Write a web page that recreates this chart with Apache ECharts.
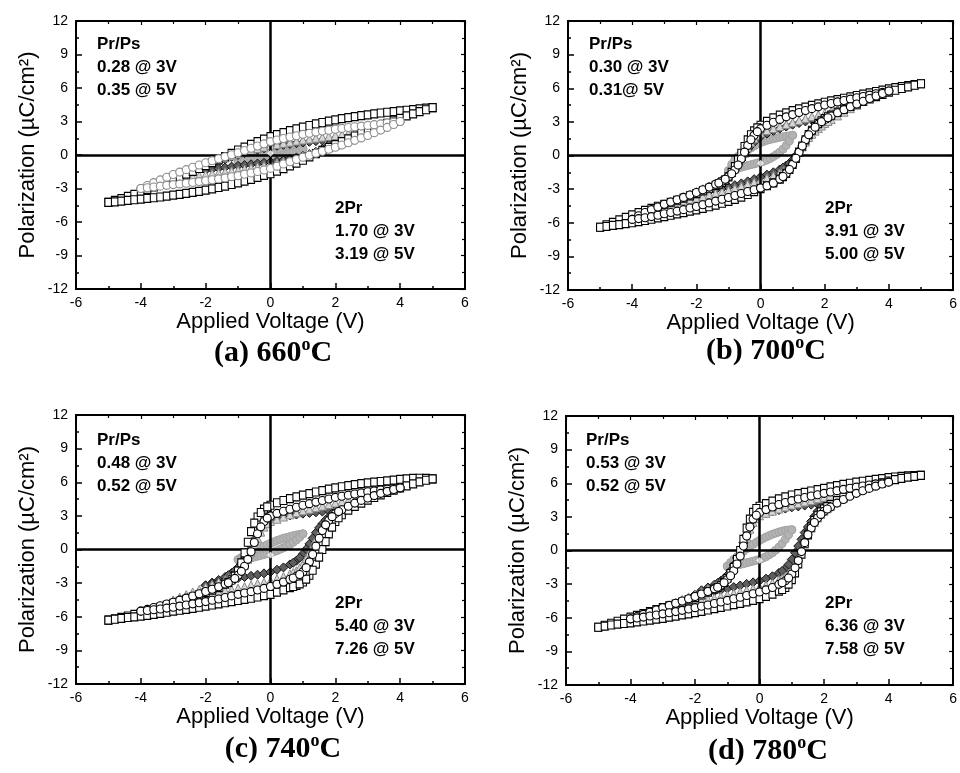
<!DOCTYPE html>
<html><head><meta charset="utf-8">
<script src="https://cdn.jsdelivr.net/npm/echarts@6/dist/echarts.min.js"></script>
<style>html,body{margin:0;padding:0;background:#fff}#c{width:960px;height:773px}</style>
</head><body><div id="c"></div>
<script>
// ---- voltage steps (V) ----
const V5 = [-5,-4.8,-4.6,-4.4,-4.2,-4,-3.8,-3.6,-3.4,-3.2,-3,-2.8,-2.6,-2.4,-2.2,-2,-1.8,-1.6,-1.4,-1.2,-1,-0.8,-0.6,-0.4,-0.2,0,0.2,0.4,0.6,0.8,1,1.2,1.4,1.6,1.8,2,2.2,2.4,2.6,2.8,3,3.2,3.4,3.6,3.8,4,4.2,4.4,4.6,4.8,5];
const V4 = [-4,-3.8,-3.6,-3.4,-3.2,-3,-2.8,-2.6,-2.4,-2.2,-2,-1.8,-1.6,-1.4,-1.2,-1,-0.8,-0.6,-0.4,-0.2,0,0.2,0.4,0.6,0.8,1,1.2,1.4,1.6,1.8,2,2.2,2.4,2.6,2.8,3,3.2,3.4,3.6,3.8,4];
const V3 = [-3,-2.8,-2.6,-2.4,-2.2,-2,-1.8,-1.6,-1.4,-1.2,-1,-0.8,-0.6,-0.4,-0.2,0,0.2,0.4,0.6,0.8,1,1.2,1.4,1.6,1.8,2,2.2,2.4,2.6,2.8,3];
const V2 = [-2,-1.8,-1.6,-1.4,-1.2,-1,-0.8,-0.6,-0.4,-0.2,0,0.2,0.4,0.6,0.8,1,1.2,1.4,1.6,1.8,2];
const V1 = [-1,-0.9,-0.8,-0.7,-0.6,-0.5,-0.4,-0.3,-0.2,-0.1,0,0.1,0.2,0.3,0.4,0.5,0.6,0.7,0.8,0.9,1];
// extra readings in the switching regions (upper branch / lower branch)
const swUpV = [-1.3,-1.1,-0.9,-0.7,-0.5,-0.3,-0.1];
const swLoV = [0.7,0.9,1.1,1.3,1.5,1.7,1.9,2.1];

// ---- (a) 660 C : upper (U) and lower (L) branches, uC/cm2 ----
const a5U = [-4.25,-4.07,-3.9,-3.7,-3.52,-3.3,-3.08,-2.86,-2.64,-2.42,-2.2,-1.96,-1.72,-1.47,-1.21,-0.95,-0.69,-0.43,-0.15,0.15,0.45,0.7,0.95,1.2,1.42,1.65,1.83,2.01,2.18,2.34,2.5,2.64,2.78,2.91,3.03,3.15,3.25,3.35,3.44,3.52,3.6,3.68,3.76,3.83,3.89,3.95,4.01,4.07,4.13,4.19,4.25];
const a5L = [-4.25,-4.19,-4.13,-4.07,-4.01,-3.95,-3.89,-3.83,-3.76,-3.68,-3.6,-3.52,-3.44,-3.35,-3.25,-3.15,-3.03,-2.91,-2.78,-2.64,-2.5,-2.34,-2.18,-2.01,-1.83,-1.68,-1.45,-1.22,-0.97,-0.72,-0.47,-0.17,0.13,0.41,0.67,0.93,1.19,1.45,1.7,1.94,2.18,2.4,2.62,2.84,3.06,3.28,3.5,3.68,3.88,4.05,4.25];
const a4U = [-3.0,-2.73,-2.47,-2.23,-1.99,-1.75,-1.53,-1.31,-1.1,-0.9,-0.7,-0.52,-0.34,-0.16,0.02,0.2,0.4,0.6,0.8,1.0,1.2,1.34,1.48,1.61,1.73,1.85,1.95,2.05,2.14,2.22,2.3,2.38,2.46,2.53,2.59,2.65,2.72,2.79,2.86,2.93,3.0];
const a4L = [-3.0,-2.93,-2.86,-2.79,-2.72,-2.65,-2.59,-2.53,-2.46,-2.38,-2.3,-2.22,-2.14,-2.05,-1.95,-1.85,-1.73,-1.61,-1.48,-1.34,-1.2,-1.0,-0.8,-0.6,-0.4,-0.2,-0.02,0.16,0.34,0.52,0.7,0.9,1.1,1.31,1.53,1.75,1.99,2.23,2.47,2.73,3.0];
const a3U = [-2.2,-1.9,-1.6,-1.33,-1.08,-0.85,-0.65,-0.45,-0.26,-0.08,0.1,0.26,0.42,0.57,0.71,0.85,0.95,1.05,1.15,1.25,1.35,1.43,1.51,1.59,1.67,1.75,1.84,1.93,2.02,2.11,2.2];
const a3L = [-2.2,-2.11,-2.02,-1.93,-1.84,-1.75,-1.67,-1.59,-1.51,-1.43,-1.35,-1.25,-1.15,-1.05,-0.95,-0.85,-0.71,-0.57,-0.42,-0.26,-0.1,0.08,0.26,0.45,0.65,0.85,1.08,1.33,1.6,1.9,2.2];
const a2U = [-1.35,-0.98,-0.65,-0.38,-0.17,0.0,0.17,0.33,0.47,0.6,0.72,0.82,0.91,0.99,1.06,1.12,1.18,1.24,1.3,1.37,1.45];
const a2L = [-1.35,-1.27,-1.19,-1.11,-1.04,-0.97,-0.9,-0.83,-0.76,-0.69,-0.62,-0.54,-0.45,-0.35,-0.22,-0.08,0.08,0.28,0.55,0.92,1.45];
const a1U = [-0.55,-0.42,-0.3,-0.2,-0.1,-0.01,0.08,0.15,0.22,0.28,0.33,0.38,0.42,0.45,0.48,0.5,0.52,0.54,0.55,0.55,0.55];
const a1L = [-0.55,-0.54,-0.52,-0.5,-0.48,-0.45,-0.42,-0.39,-0.35,-0.31,-0.27,-0.22,-0.17,-0.1,-0.03,0.06,0.15,0.24,0.32,0.43,0.55];

// ---- (b) 700 C ----
const b5U = [-6.4,-6.18,-5.96,-5.74,-5.52,-5.3,-5.1,-4.9,-4.71,-4.53,-4.35,-4.17,-3.99,-3.8,-3.6,-3.4,-3.16,-2.92,-2.67,-2.4,-1.9,-1.0,0.2,1.4,2.2,2.7,3.05,3.35,3.6,3.81,4.0,4.16,4.32,4.47,4.61,4.75,4.87,4.99,5.11,5.23,5.35,5.47,5.59,5.71,5.83,5.95,6.05,6.15,6.24,6.32,6.4];
const b5L = [-6.4,-6.32,-6.24,-6.16,-6.08,-6.0,-5.9,-5.8,-5.69,-5.57,-5.45,-5.33,-5.21,-5.09,-4.97,-4.85,-4.71,-4.57,-4.42,-4.26,-4.1,-3.91,-3.71,-3.48,-3.23,-2.95,-2.7,-2.45,-2.1,-1.6,-0.8,0.3,1.4,2.25,2.85,3.3,3.6,3.87,4.13,4.37,4.6,4.82,5.04,5.25,5.45,5.65,5.82,5.98,6.13,6.27,6.4];
const b5Us = [-2.55,-2.2,-1.5,-0.4,0.8,1.85,2.47];
const b5Ls = [-1.88,-1.25,-0.25,0.85,1.87,2.58,3.1,3.46];
const b4U = [-5.7,-5.38,-5.09,-4.83,-4.59,-4.35,-4.15,-3.95,-3.74,-3.52,-3.3,-3.06,-2.82,-2.57,-2.3,-1.9,-1.3,-0.3,0.9,1.8,2.4,2.7,2.97,3.22,3.45,3.65,3.83,4.01,4.18,4.34,4.5,4.64,4.78,4.91,5.03,5.15,5.27,5.39,5.51,5.63,5.75];
const b4L = [-5.7,-5.63,-5.55,-5.45,-5.33,-5.2,-5.08,-4.96,-4.83,-4.69,-4.55,-4.39,-4.23,-4.07,-3.91,-3.75,-3.57,-3.39,-3.21,-3.05,-2.9,-2.7,-2.45,-2.1,-1.6,-0.8,0.3,1.4,2.2,2.8,3.2,3.52,3.82,4.09,4.35,4.6,4.84,5.08,5.31,5.53,5.75];
const b4Us = [-2.45,-2.12,-1.63,-0.85,0.3,1.4,2.13];
const b4Ls = [-1.88,-1.25,-0.25,0.85,1.85,2.53,3.02,3.37];
const b3U = [-4.35,-4.13,-3.91,-3.68,-3.44,-3.2,-2.96,-2.72,-2.47,-2.17,-1.8,-1.2,-0.3,0.7,1.5,2.0,2.22,2.41,2.59,2.77,2.95,3.13,3.31,3.48,3.64,3.8,3.94,4.08,4.22,4.36,4.5];
const b3L = [-4.35,-4.25,-4.15,-4.04,-3.92,-3.8,-3.66,-3.52,-3.38,-3.24,-3.1,-2.93,-2.75,-2.56,-2.38,-2.2,-2.0,-1.8,-1.53,-1.2,-0.6,0.3,1.2,1.9,2.4,2.85,3.2,3.53,3.86,4.18,4.5];
const b3Us = [-2.33,-2.0,-1.53,-0.78,0.2,1.15,1.8];
const b3Ls = [-1.38,-0.93,-0.17,0.77,1.6,2.17,2.63,3.03];
const b2U = [-3.4,-3.12,-2.85,-2.55,-2.2,-1.8,-1.2,-0.4,0.5,1.2,1.7,1.96,2.2,2.4,2.58,2.75,2.9,3.04,3.16,3.28,3.4];
const b2L = [-3.4,-3.3,-3.2,-3.08,-2.95,-2.8,-2.65,-2.49,-2.31,-2.11,-1.9,-1.71,-1.5,-1.24,-0.9,-0.4,0.4,1.3,2.0,2.7,3.4];
const b2Us = [-2.38,-2.02,-1.53,-0.82,0.05,0.88,1.47];
const b2Ls = [-1.08,-0.68,-0.02,0.85,1.67,2.35,3.05];
const b1U = [-1.35,-0.8,-0.35,-0.08,0.15,0.33,0.5,0.68,0.85,1.0,1.15,1.25,1.35,1.43,1.5,1.56,1.62,1.67,1.72,1.76,1.8];
const b1L = [-1.35,-1.27,-1.2,-1.12,-1.05,-0.97,-0.9,-0.82,-0.75,-0.67,-0.6,-0.51,-0.4,-0.26,-0.1,0.09,0.3,0.57,0.9,1.3,1.8];

// ---- (c) 740 C ----
const c5U = [-6.3,-6.18,-6.06,-5.93,-5.79,-5.65,-5.49,-5.33,-5.16,-4.98,-4.8,-4.62,-4.44,-4.25,-4.05,-3.85,-3.63,-3.4,-3.1,-2.7,-1.9,-0.3,1.6,2.9,3.6,3.95,4.17,4.37,4.54,4.7,4.85,4.99,5.13,5.26,5.38,5.5,5.6,5.7,5.79,5.87,5.95,6.01,6.07,6.13,6.19,6.25,6.3,6.34,6.36,6.34,6.3];
const c5L = [-6.3,-6.22,-6.14,-6.07,-6.01,-5.95,-5.87,-5.79,-5.7,-5.6,-5.5,-5.42,-5.34,-5.25,-5.15,-5.05,-4.95,-4.85,-4.75,-4.65,-4.55,-4.45,-4.35,-4.24,-4.12,-4.0,-3.8,-3.6,-3.4,-3.2,-2.9,-2.3,-1.3,0.0,1.4,2.5,3.1,3.52,3.85,4.13,4.4,4.64,4.88,5.1,5.3,5.5,5.68,5.86,6.03,6.18,6.3];
const c5Us = [-2.93,-2.38,-1.2,0.65,2.35,3.3,3.8];
const c5Ls = [-3.3,-3.07,-2.65,-1.85,-0.68,0.7,2.0,2.83];
const c4U = [-5.5,-5.34,-5.18,-5.02,-4.86,-4.7,-4.52,-4.34,-4.15,-3.95,-3.75,-3.54,-3.32,-3.08,-2.8,-2.3,-1.5,-0.2,1.4,2.5,3.0,3.22,3.41,3.59,3.77,3.95,4.09,4.23,4.37,4.51,4.65,4.75,4.85,4.95,5.05,5.15,5.23,5.31,5.38,5.44,5.5];
const c4L = [-5.5,-5.44,-5.38,-5.31,-5.23,-5.15,-5.05,-4.95,-4.85,-4.75,-4.65,-4.53,-4.41,-4.28,-4.14,-4.0,-3.88,-3.76,-3.62,-3.47,-3.3,-3.1,-2.9,-2.66,-2.4,-2.0,-1.1,0.3,1.7,2.6,3.2,3.55,3.86,4.14,4.38,4.6,4.81,5.01,5.19,5.35,5.5];
const c4Us = [-2.96,-2.58,-1.95,-0.88,0.62,2.02,2.8];
const c4Ls = [-2.54,-2.23,-1.62,-0.45,1.0,2.2,2.93,3.39];
const c3U = [-4.5,-4.26,-4.02,-3.79,-3.57,-3.35,-3.13,-2.91,-2.67,-2.4,-2.1,-1.4,-0.3,1.0,2.0,2.5,2.7,2.9,3.09,3.27,3.45,3.59,3.73,3.87,4.01,4.15,4.27,4.39,4.5,4.6,4.7];
const c3L = [-4.5,-4.42,-4.34,-4.25,-4.15,-4.05,-3.93,-3.81,-3.69,-3.57,-3.45,-3.31,-3.17,-3.04,-2.92,-2.8,-2.6,-2.4,-2.17,-1.9,-1.3,-0.3,0.9,1.9,2.6,3.0,3.38,3.73,4.06,4.38,4.7];
const c3Us = [-2.54,-2.27,-1.8,-0.87,0.35,1.55,2.3];
const c3Ls = [-2.05,-1.64,-0.83,0.3,1.43,2.3,2.82,3.19];
const c2U = [-3.2,-2.95,-2.72,-2.45,-2.1,-1.6,-0.8,0.3,1.4,2.2,2.75,2.86,2.96,3.04,3.12,3.2,3.26,3.32,3.38,3.44,3.5];
const c2L = [-3.2,-3.06,-2.92,-2.79,-2.67,-2.55,-2.45,-2.35,-2.25,-2.13,-2.0,-1.81,-1.6,-1.33,-1.0,-0.4,0.5,1.5,2.3,2.9,3.5];
const c2Us = [-2.29,-1.88,-1.22,-0.27,0.87,1.85,2.52];
const c2Ls = [-1.18,-0.73,0.03,1.0,1.93,2.63,3.2];
const c1U = [-0.9,-0.72,-0.55,-0.4,-0.25,-0.1,0.05,0.18,0.3,0.43,0.55,0.68,0.8,0.9,1.0,1.08,1.15,1.23,1.3,1.35,1.4];
const c1L = [-0.9,-0.88,-0.85,-0.8,-0.75,-0.68,-0.6,-0.53,-0.45,-0.38,-0.3,-0.2,-0.1,0.02,0.15,0.3,0.45,0.64,0.85,1.1,1.4];

// ---- (d) 780 C ----
const d5U = [-6.85,-6.67,-6.49,-6.31,-6.13,-5.95,-5.79,-5.63,-5.46,-5.28,-5.1,-4.94,-4.78,-4.61,-4.41,-4.2,-3.97,-3.72,-3.45,-3.1,-2.5,-1.5,0.0,2.0,3.4,3.95,4.18,4.4,4.6,4.78,4.95,5.07,5.19,5.31,5.43,5.55,5.67,5.79,5.9,6.0,6.1,6.18,6.26,6.34,6.42,6.5,6.56,6.62,6.66,6.69,6.7];
const d5L = [-6.85,-6.74,-6.65,-6.57,-6.51,-6.45,-6.37,-6.29,-6.21,-6.13,-6.05,-5.95,-5.85,-5.75,-5.65,-5.55,-5.43,-5.31,-5.19,-5.07,-4.95,-4.83,-4.71,-4.58,-4.45,-4.3,-4.1,-3.9,-3.62,-3.3,-2.6,-1.2,0.6,2.1,3.1,3.7,4.1,4.45,4.75,5.03,5.3,5.5,5.7,5.88,6.04,6.2,6.32,6.44,6.54,6.62,6.7];
const d5Us = [-3.3,-2.85,-2.05,-0.8,1.0,2.8,3.75];
const d5Ls = [-3.48,-3.0,-2.0,-0.32,1.4,2.68,3.44,3.92];
const d4U = [-6.1,-5.9,-5.7,-5.5,-5.3,-5.1,-4.9,-4.7,-4.5,-4.3,-4.1,-3.88,-3.66,-3.42,-3.1,-2.6,-1.8,-0.5,1.3,2.8,3.4,3.65,3.88,4.1,4.28,4.45,4.59,4.73,4.86,4.98,5.1,5.22,5.34,5.45,5.55,5.65,5.75,5.85,5.94,6.02,6.1];
const d4L = [-6.1,-6.02,-5.94,-5.85,-5.75,-5.65,-5.55,-5.45,-5.34,-5.22,-5.1,-4.98,-4.86,-4.73,-4.59,-4.45,-4.31,-4.17,-4.02,-3.86,-3.7,-3.51,-3.3,-3.02,-2.7,-2.1,-0.9,0.7,2.0,2.9,3.5,3.88,4.23,4.55,4.84,5.1,5.33,5.54,5.74,5.93,6.1];
const d4Us = [-3.28,-2.88,-2.25,-1.2,0.4,2.1,3.15];
const d4Ls = [-2.88,-2.45,-1.55,-0.1,1.4,2.5,3.22,3.7];
const d3U = [-5.1,-4.86,-4.62,-4.38,-4.14,-3.9,-3.66,-3.42,-3.14,-2.8,-2.4,-1.6,-0.4,1.2,2.5,3.1,3.32,3.51,3.7,3.88,4.05,4.19,4.33,4.47,4.61,4.75,4.87,4.99,5.1,5.2,5.3];
const d3L = [-5.1,-5.02,-4.94,-4.84,-4.72,-4.6,-4.48,-4.36,-4.23,-4.09,-3.95,-3.81,-3.67,-3.53,-3.39,-3.25,-3.08,-2.9,-2.62,-2.3,-1.7,-0.6,0.8,2.0,2.9,3.5,3.92,4.3,4.66,4.99,5.3];
const d3Us = [-2.98,-2.62,-2.05,-1.05,0.4,1.9,2.85];
const d3Ls = [-2.48,-2.05,-1.2,0.1,1.45,2.5,3.23,3.73];
const d2U = [-3.95,-3.55,-3.3,-3.05,-2.7,-2.2,-1.3,0.0,1.4,2.6,3.15,3.32,3.48,3.61,3.74,3.85,3.93,4.01,4.09,4.15,4.2];
const d2L = [-3.95,-3.85,-3.75,-3.64,-3.52,-3.4,-3.26,-3.12,-2.98,-2.84,-2.7,-2.51,-2.3,-2.0,-1.6,-0.8,0.4,1.6,2.6,3.5,4.2];
const d2Us = [-2.9,-2.48,-1.8,-0.67,0.7,2.05,2.92];
const d2Ls = [-1.82,-1.25,-0.2,1.0,2.1,3.05,3.87];
const d1U = [-1.4,-1.08,-0.8,-0.55,-0.3,-0.07,0.15,0.35,0.55,0.73,0.9,1.05,1.2,1.33,1.45,1.55,1.65,1.73,1.8,1.83,1.85];
const d1L = [-1.4,-1.38,-1.35,-1.3,-1.25,-1.18,-1.1,-1.03,-0.95,-0.88,-0.8,-0.68,-0.55,-0.38,-0.2,0.03,0.3,0.62,1.0,1.4,1.85];

// start points (white marks at V = 0)
const startV = [0, 0, 0, 0];
const startP = [0.15, -0.7, -0.5, -0.9];

// ---- texts ----
const letters = ['a', 'b', 'c', 'd'];
const temps = ['660', '700', '740', '780'];
const prPs = [['0.28 @ 3V', '0.35 @ 5V'], ['0.30 @ 3V', '0.31@ 5V'], ['0.48 @ 3V', '0.52 @ 5V'], ['0.53 @ 3V', '0.52 @ 5V']];
const twoPr = [['1.70 @ 3V', '3.19 @ 5V'], ['3.91 @ 3V', '5.00 @ 5V'], ['5.40 @ 3V', '7.26 @ 5V'], ['6.36 @ 3V', '7.58 @ 5V']];

const loopsByPanel = [
  {1: [a1U, a1L], 2: [a2U, a2L], 3: [a3U, a3L], 4: [a4U, a4L], 5: [a5U, a5L]},
  {1: [b1U, b1L], 2: [b2U, b2L, b2Us, b2Ls], 3: [b3U, b3L, b3Us, b3Ls], 4: [b4U, b4L, b4Us, b4Ls], 5: [b5U, b5L, b5Us, b5Ls]},
  {1: [c1U, c1L], 2: [c2U, c2L, c2Us, c2Ls], 3: [c3U, c3L, c3Us, c3Ls], 4: [c4U, c4L, c4Us, c4Ls], 5: [c5U, c5L, c5Us, c5Ls]},
  {1: [d1U, d1L], 2: [d2U, d2L, d2Us, d2Ls], 3: [d3U, d3L, d3Us, d3Ls], 4: [d4U, d4L, d4Us, d4Ls], 5: [d5U, d5L, d5Us, d5Ls]}
];
const Vs = {1: V1, 2: V2, 3: V3, 4: V4, 5: V5};

// ---- layout / style ----
const grids = [
  {left: 76, top: 21, width: 389, height: 268},
  {left: 568, top: 21, width: 387, height: 269},
  {left: 76, top: 415, width: 389, height: 269},
  {left: 566, top: 416, width: 388, height: 269}
];
const place = [
  {pr: [97, 33], tp: [335, 197], title: [273, 352]},
  {pr: [589, 33], tp: [825, 197], title: [766, 350]},
  {pr: [97, 429], tp: [335, 592], title: [283, 748]},
  {pr: [586, 429], tp: [825, 592], title: [768, 750]}
];
const mk = {
  1: {symbol: 'circle', size: 8, color: '#b3b3b3', border: '#a3a3a3', bw: 1},
  2: {symbol: 'diamond', size: 9, color: '#5e5e5e', border: '#151515', bw: 1},
  3: {symbol: 'triangle', size: 8, color: '#d6d6d6', border: '#8a8a8a', bw: 1},
  5: {symbol: 'rect', size: [7, 8], color: '#ffffff', border: '#000000', bw: 1.1},
  4: {symbol: 'circle', size: 8, color: '#ffffff', border: '#000000', bw: 1.1}
};
const circleBorderByPanel = ['#8c8c8c', '#000000', '#000000', '#000000'];
const drawOrder = [1, 2, 3, 5, 4];
const FONT = '"Liberation Sans", Arial, sans-serif';

function loopData(V, arr) {
  const [U, L, Us, Ls] = arr;
  let d = V.map((v, i) => [v, U[i]]).concat(V.map((v, i) => [v, L[i]]));
  if (Us) d = d.concat(Us.map((p, i) => [swUpV[i], p]));
  if (Ls) d = d.concat(Ls.map((p, i) => [swLoV[i], p]));
  return d;
}

const xAxis = [], yAxis = [], series = [], graphic = [];
grids.forEach((g, gi) => {
  const tick = {inside: true, length: 6, lineStyle: {color: '#000', width: 1.5}};
  const minor = {show: true, splitNumber: 2, length: 3, lineStyle: {color: '#000', width: 1.5}};
  const line = {show: true, onZero: false, lineStyle: {color: '#000', width: 2}};
  xAxis.push({gridIndex: gi, type: 'value', min: -6, max: 6, interval: 2, axisLine: line, axisTick: tick, minorTick: minor,
    splitLine: {show: false}, minorSplitLine: {show: false},
    axisLabel: {color: '#000', fontSize: 14, fontFamily: FONT, margin: 7, showMinLabel: true, showMaxLabel: true},
    name: 'Applied Voltage (V)', nameLocation: 'middle', nameGap: 22,
    nameTextStyle: {fontSize: 22, fontFamily: FONT, color: '#000'}});
  xAxis.push({gridIndex: gi, type: 'value', position: 'top', min: -6, max: 6, interval: 2, axisLine: line,
    axisTick: {inside: true, length: 4, lineStyle: {color: '#000', width: 1.2}},
    minorTick: {show: true, splitNumber: 2, length: 3, lineStyle: {color: '#000', width: 1.2}},
    splitLine: {show: false}, axisLabel: {show: false}});
  yAxis.push({gridIndex: gi, type: 'value', min: -12, max: 12, interval: 3, axisLine: line, axisTick: tick, minorTick: minor,
    splitLine: {show: false}, minorSplitLine: {show: false},
    axisLabel: {color: '#000', fontSize: 14, fontFamily: FONT, margin: 8, showMinLabel: true, showMaxLabel: true},
    name: 'Polarization (\u00b5C/cm\u00b2)', nameLocation: 'middle', nameRotate: 90, nameGap: 37,
    nameTextStyle: {fontSize: 22, fontFamily: FONT, color: '#000'}});
  yAxis.push({gridIndex: gi, type: 'value', position: 'right', min: -12, max: 12, interval: 3, axisLine: line,
    axisTick: {inside: true, length: 4, lineStyle: {color: '#000', width: 1.2}},
    minorTick: {show: true, splitNumber: 2, length: 3, lineStyle: {color: '#000', width: 1.2}},
    splitLine: {show: false}, axisLabel: {show: false}});

  // zero reference lines
  series.push({type: 'scatter', xAxisIndex: 2 * gi, yAxisIndex: 2 * gi, data: [], z: 1, silent: true,
    markLine: {silent: true, symbol: 'none', animation: false, label: {show: false},
      lineStyle: {color: '#000', width: 2.5, type: 'solid'}, emphasis: {disabled: true},
      data: [{xAxis: 0}, {yAxis: 0}]}});

  drawOrder.forEach((k, oi) => {
    const s = mk[k];
    const border = k === 4 ? circleBorderByPanel[gi] : s.border;
    series.push({type: 'scatter', name: k + 'V', xAxisIndex: 2 * gi, yAxisIndex: 2 * gi, z: 2 + oi, silent: true,
      symbol: s.symbol, symbolSize: s.size, data: loopData(Vs[k], loopsByPanel[gi][k]),
      itemStyle: {color: s.color, borderColor: border, borderWidth: s.bw, opacity: 1},
      emphasis: {disabled: true}, animation: false});
  });
  series.push({type: 'scatter', xAxisIndex: 2 * gi, yAxisIndex: 2 * gi, z: 9, silent: true,
    symbol: 'diamond', symbolSize: 7, data: [[startV[gi], startP[gi]]],
    itemStyle: {color: '#fff', borderColor: '#fff', borderWidth: 0}, animation: false});

  const p = place[gi];
  graphic.push({type: 'text', left: p.pr[0], top: p.pr[1], z: 100,
    style: {text: 'Pr/Ps\n' + prPs[gi].join('\n'), font: 'bold 17px ' + FONT, lineHeight: 23, fill: '#000'}});
  graphic.push({type: 'text', left: p.tp[0], top: p.tp[1], z: 100,
    style: {text: '2Pr\n' + twoPr[gi].join('\n'), font: 'bold 17px ' + FONT, lineHeight: 23, fill: '#000'}});
  graphic.push({type: 'text', x: p.title[0], y: p.title[1], z: 100,
    style: {text: '{m|(' + letters[gi] + ') ' + temps[gi] + '}{s|o}{m|C}', align: 'center', verticalAlign: 'middle', fill: '#000',
      rich: {m: {font: 'bold 30px "Liberation Serif", serif', lineHeight: 32, verticalAlign: 'bottom'},
             s: {font: 'bold 18px "Liberation Serif", serif', lineHeight: 18, verticalAlign: 'top'}}}});
});

const chart = echarts.init(document.getElementById('c'), null, {renderer: 'canvas'});
chart.setOption({animation: false, backgroundColor: '#fff', grid: grids, xAxis, yAxis, series, graphic});
</script>
</body></html>
